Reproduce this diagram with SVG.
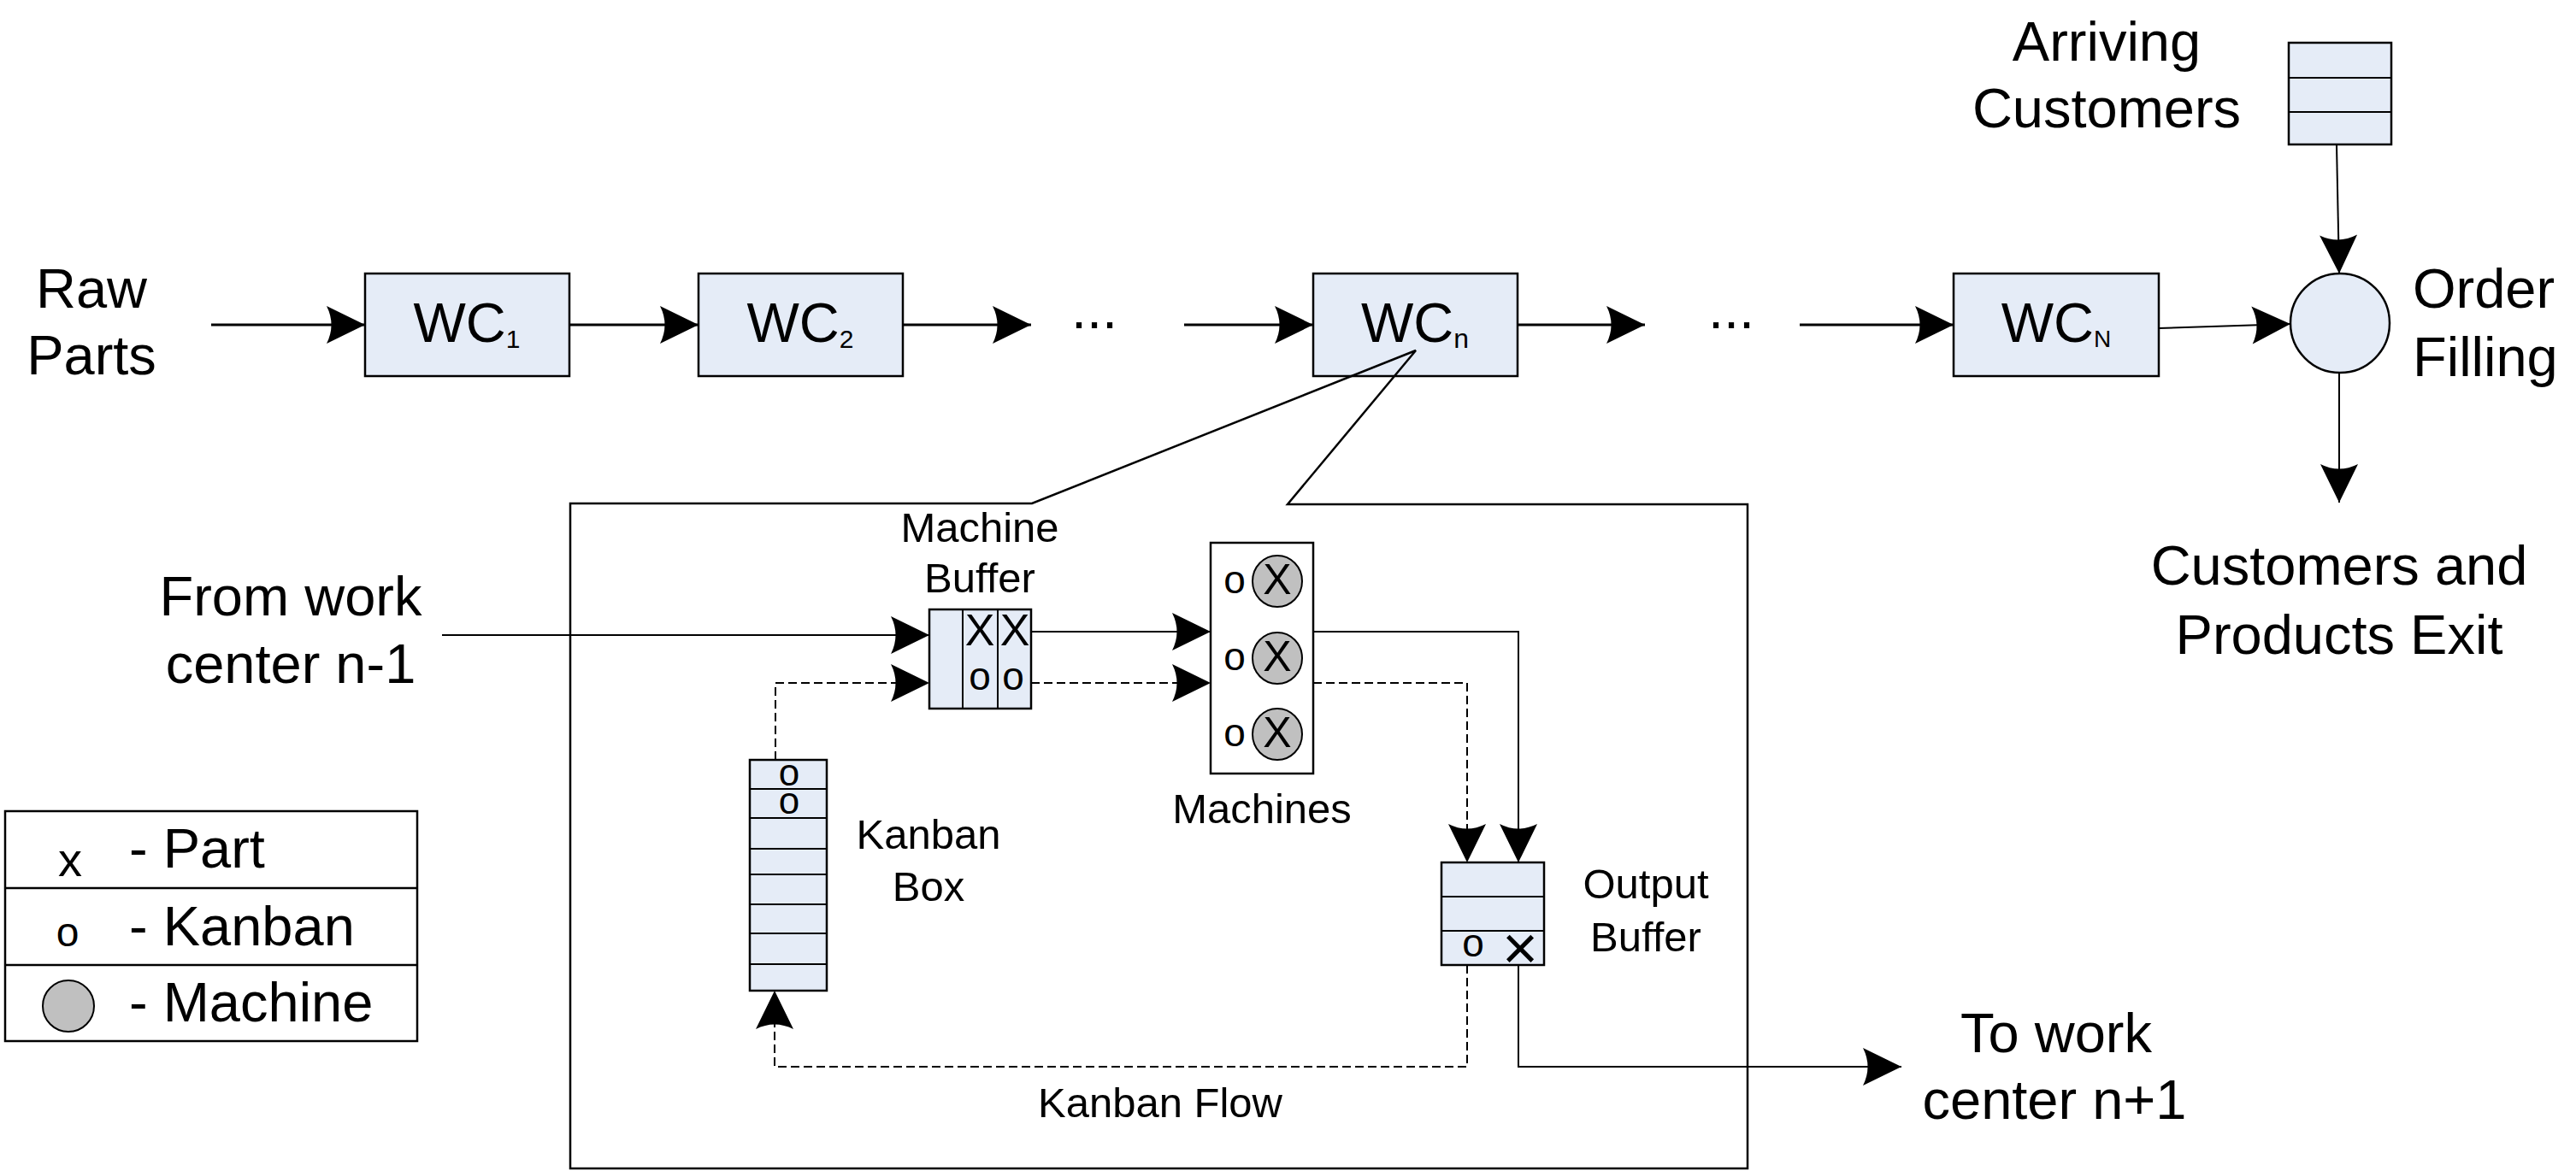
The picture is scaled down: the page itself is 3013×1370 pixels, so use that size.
<svg xmlns="http://www.w3.org/2000/svg" width="3013" height="1370" viewBox="0 0 3013 1370">
<style>
text{font-family:"Liberation Sans",Arial,sans-serif;fill:#000}
.big{font-size:65px}
.mid{font-size:49px}
.sym{font-size:46px}
.box{fill:#E5ECF7;stroke:#000;stroke-width:2.5}
.wbox{fill:#fff;stroke:#000;stroke-width:2.5}
.ln{fill:none;stroke:#000;stroke-width:3}
.thin{fill:none;stroke:#000;stroke-width:2}
.dash{fill:none;stroke:#000;stroke-width:2;stroke-dasharray:10 5}
.mach{fill:#C0C0C0;stroke:#000;stroke-width:2}
.mid-a{text-anchor:middle}
</style>
<defs>
<marker id="ah" viewBox="-47 -24 49 48" markerWidth="49" markerHeight="48" refX="0" refY="0" orient="auto" markerUnits="userSpaceOnUse">
<path d="M0,0 L-45,-22 Q-34,0 -45,22 Z" fill="#000" stroke="none"/>
</marker>
</defs>

<g id="raw-parts"><text class="big mid-a" x="107" y="360">Raw</text><text class="big mid-a" x="107" y="438">Parts</text></g>
<g id="wc1"><rect class="box" x="427" y="320" width="239" height="120"/><text class="big mid-a" x="546" y="400">WC<tspan font-size="30" dy="7">1</tspan></text></g>
<g id="wc2"><rect class="box" x="817" y="320" width="239" height="120"/><text class="big mid-a" x="936" y="400">WC<tspan font-size="30" dy="7">2</tspan></text></g>
<g id="dots1"><text class="big" x="1253" y="384">...</text></g>
<g id="wcn"><rect class="box" x="1536" y="320" width="239" height="120"/><text class="big mid-a" x="1655" y="400">WC<tspan font-size="32" dy="7">n</tspan></text></g>
<g id="dots2"><text class="big" x="1998" y="384">...</text></g>
<g id="wcN"><rect class="box" x="2285" y="320" width="240" height="120"/><text class="big mid-a" x="2405" y="400">WC<tspan font-size="28" dy="6">N</tspan></text></g>
<g id="order-filling"><circle class="box" cx="2737" cy="378" r="58"/><text class="big" x="2822" y="360">Order</text><text class="big" x="2822" y="440">Filling</text></g>
<g id="arriving-queue"><rect class="box" x="2677" y="50" width="120" height="119"/><line class="thin" x1="2677" y1="91" x2="2797" y2="91"/><line class="thin" x1="2677" y1="131" x2="2797" y2="131"/></g>
<g id="arriving-label"><text class="big mid-a" x="2464" y="71">Arriving</text><text class="big mid-a" x="2464" y="149">Customers</text></g>
<g id="exit-label"><text class="big mid-a" x="2736" y="684">Customers and</text><text class="big mid-a" x="2736" y="765">Products Exit</text></g>

<g id="detail-frame"><path d="M667,589 L1207,589 L1656,410 L1506,590 L2044,590 L2044,1367 L667,1367 Z" fill="none" stroke="#000" stroke-width="2.5"/></g>

<g id="from-label"><text class="big mid-a" x="340" y="720">From work</text><text class="big mid-a" x="340" y="799">center n-1</text></g>

<g id="machine-buffer"><rect class="box" x="1087" y="713" width="119" height="116"/><line class="thin" x1="1126" y1="713" x2="1126" y2="829"/><line class="thin" x1="1167" y1="713" x2="1167" y2="829"/>
<text class="mid-a" font-size="52" x="1146" y="755">X</text><text class="mid-a" font-size="52" x="1187" y="755">X</text>
<text class="sym mid-a" x="1146" y="807">o</text><text class="sym mid-a" x="1185" y="807">o</text>
<text class="mid mid-a" x="1146" y="634">Machine</text><text class="mid mid-a" x="1146" y="693">Buffer</text></g>

<g id="machines"><rect class="wbox" x="1416" y="635" width="120" height="270"/>
<ellipse class="mach" cx="1494" cy="680" rx="29" ry="30"/><ellipse class="mach" cx="1494" cy="770" rx="29" ry="30"/><ellipse class="mach" cx="1494" cy="859" rx="29" ry="30"/>
<text class="mid-a" font-size="50" x="1494" y="695">X</text><text class="mid-a" font-size="50" x="1494" y="785">X</text><text class="mid-a" font-size="50" x="1494" y="874">X</text>
<text class="sym mid-a" x="1444" y="694">o</text><text class="sym mid-a" x="1444" y="784">o</text><text class="sym mid-a" x="1444" y="873">o</text>
<text class="mid mid-a" x="1476" y="963">Machines</text></g>

<g id="kanban-box"><rect class="box" x="877" y="889" width="90" height="270"/>
<line class="thin" x1="877" y1="923" x2="967" y2="923"/><line class="thin" x1="877" y1="957" x2="967" y2="957"/><line class="thin" x1="877" y1="993" x2="967" y2="993"/><line class="thin" x1="877" y1="1023" x2="967" y2="1023"/><line class="thin" x1="877" y1="1058" x2="967" y2="1058"/><line class="thin" x1="877" y1="1092" x2="967" y2="1092"/><line class="thin" x1="877" y1="1128" x2="967" y2="1128"/>
<text class="mid-a" font-size="44"><tspan x="923" y="919">o</tspan><tspan x="923" y="952">o</tspan></text>
<text class="mid mid-a" x="1086" y="993">Kanban</text><text class="mid mid-a" x="1086" y="1054">Box</text></g>

<g id="output-buffer"><rect class="box" x="1686" y="1009" width="120" height="120"/><line class="thin" x1="1686" y1="1049" x2="1806" y2="1049"/><line class="thin" x1="1686" y1="1089" x2="1806" y2="1089"/>
<text class="sym mid-a" x="1723" y="1119">o</text><text class="mid-a" font-size="72" x="1778" y="1134">×</text>
<text class="mid mid-a" x="1925" y="1051">Output</text><text class="mid mid-a" x="1925" y="1113">Buffer</text></g>

<g id="kanban-flow-label"><text class="mid mid-a" x="1357" y="1307">Kanban Flow</text></g>
<g id="to-label"><text class="big mid-a" x="2405" y="1231">To work</text><text class="big mid-a" x="2403" y="1309">center n+1</text></g>

<g id="legend"><rect class="wbox" x="6" y="949" width="482" height="269"/><line class="ln" x1="6" y1="1039" x2="488" y2="1039" style="stroke-width:2.5"/><line class="ln" x1="6" y1="1129" x2="488" y2="1129" style="stroke-width:2.5"/>
<text class="mid-a" font-size="56" x="82" y="1025">x</text><text class="big" x="151" y="1015">- Part</text>
<text class="mid-a" font-size="48" x="79" y="1107">o</text><text class="big" x="151" y="1106">- Kanban</text>
<ellipse class="mach" cx="80" cy="1177" rx="30" ry="30"/><text class="big" x="151" y="1195">- Machine</text></g>

<g id="connectors">
<line class="ln" x1="247" y1="380" x2="427" y2="380" marker-end="url(#ah)"/>
<line class="ln" x1="666" y1="380" x2="817" y2="380" marker-end="url(#ah)"/>
<line class="ln" x1="1056" y1="380" x2="1206" y2="380" marker-end="url(#ah)"/>
<line class="ln" x1="1385" y1="380" x2="1536" y2="380" marker-end="url(#ah)"/>
<line class="ln" x1="1775" y1="380" x2="1924" y2="380" marker-end="url(#ah)"/>
<line class="ln" x1="2105" y1="380" x2="2285" y2="380" marker-end="url(#ah)"/>
<line class="thin" x1="2525" y1="384" x2="2679" y2="379" marker-end="url(#ah)"/>
<line class="thin" x1="2733" y1="169" x2="2736" y2="320" marker-end="url(#ah)"/>
<line class="thin" x1="2736" y1="436" x2="2736" y2="588" marker-end="url(#ah)"/>
<line class="thin" x1="517" y1="743" x2="1087" y2="743" marker-end="url(#ah)"/>
<path class="dash" d="M907,889 L907,799 L1087,799" marker-end="url(#ah)"/>
<line class="thin" x1="1206" y1="739" x2="1416" y2="739" marker-end="url(#ah)"/>
<line class="dash" x1="1206" y1="799" x2="1416" y2="799" marker-end="url(#ah)"/>
<path class="thin" d="M1536,739 L1776,739 L1776,1009" marker-end="url(#ah)"/>
<path class="dash" d="M1536,799 L1716,799 L1716,1009" marker-end="url(#ah)"/>
<path class="dash" d="M1716,1129 L1716,1248 L906,1248 L906,1159" marker-end="url(#ah)"/>
<path class="thin" d="M1776,1129 L1776,1248 L2224,1248" marker-end="url(#ah)"/>
</g>
</svg>
